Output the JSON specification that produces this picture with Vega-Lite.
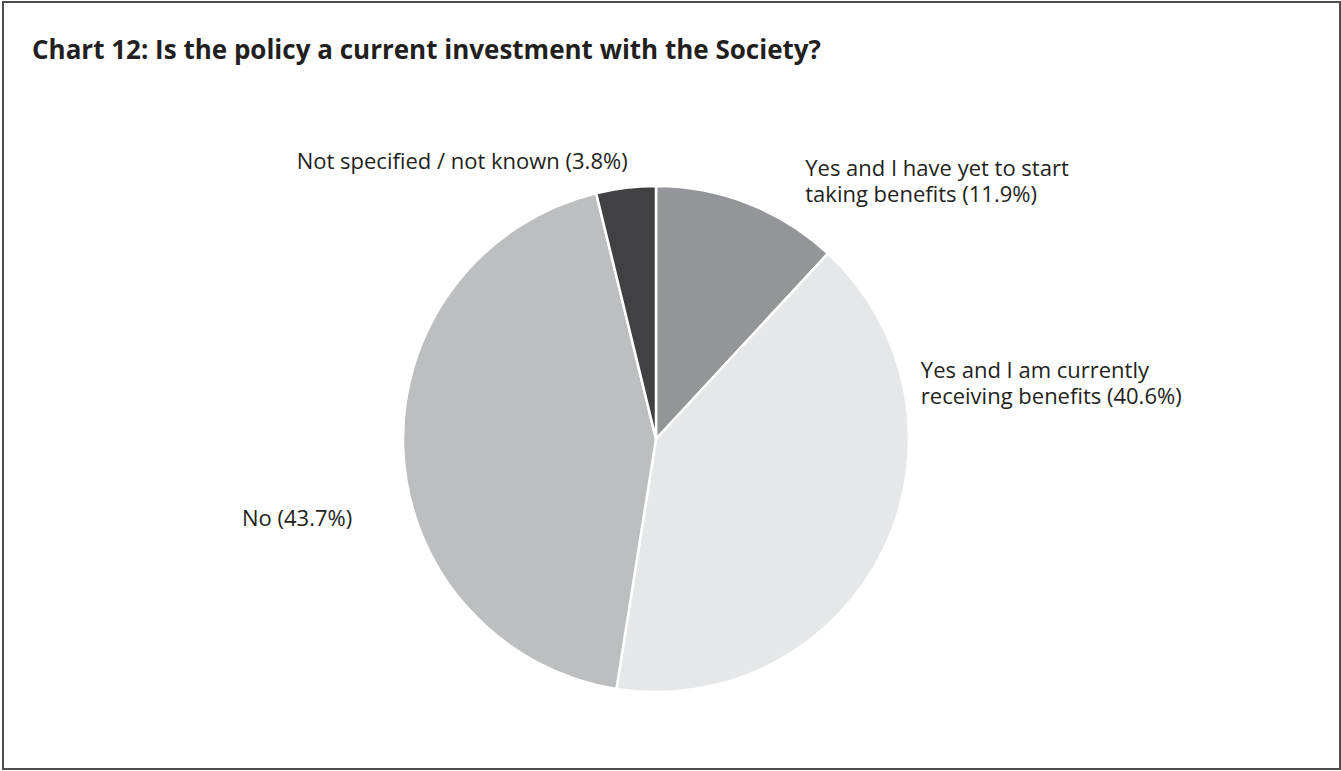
{
  "$schema": "https://vega.github.io/schema/vega-lite/v6.json",
  "width": 1312,
  "height": 664,
  "autosize": {"type": "none"},
  "padding": {"left": 0, "top": 107, "right": 29, "bottom": 0},
  "background": "white",
  "title": {
    "text": "Chart 12: Is the policy a current investment with the Society?",
    "anchor": "start",
    "frame": "group",
    "dx": 32,
    "offset": -63,
    "font": "Open Sans",
    "fontSize": 26,
    "fontWeight": "bold",
    "color": "#231f20"
  },
  "data": {
    "values": [
      {"category": "Yes and I have yet to start taking benefits", "label": "Yes and I have yet to start\ntaking benefits (11.9%)", "share": 11.9},
      {"category": "Yes and I am currently receiving benefits", "label": "Yes and I am currently\nreceiving benefits (40.6%)", "share": 40.6},
      {"category": "No", "label": "No (43.7%)", "share": 43.7},
      {"category": "Not specified / not known", "label": "Not specified / not known (3.8%)", "share": 3.8}
    ]
  },
  "layer": [
    {
      "transform": [{"window": [{"op": "row_number", "as": "idx"}]}],
      "mark": {"type": "arc", "outerRadius": 253, "stroke": "white", "strokeWidth": 2.5},
      "encoding": {
        "theta": {"field": "share", "type": "quantitative", "stack": true},
        "order": {"field": "idx", "type": "quantitative"},
        "color": {
          "field": "category",
          "type": "nominal",
          "scale": {
            "domain": ["Yes and I have yet to start taking benefits", "Yes and I am currently receiving benefits", "No", "Not specified / not known"],
            "range": ["#939598", "#e6e7e8", "#bcbec0", "#414042"]
          },
          "legend": null
        }
      }
    },
    {
      "transform": [{"window": [{"op": "row_number", "as": "idx"}]}],
      "mark": {
        "type": "text",
        "radius": 280,
        "font": "Open Sans",
        "fontSize": 22,
        "color": "#231f20",
        "lineBreak": "\n",
        "lineHeight": 26,
        "baseline": "middle",
        "align": {"expr": "datum.category === 'No' || datum.category === 'Not specified / not known' ? 'right' : 'left'"},
        "dx": {"expr": "datum.category === 'No' ? -24 : datum.category === 'Not specified / not known' ? 5 : datum.category === 'Yes and I am currently receiving benefits' ? 13 : 47"},
        "dy": {"expr": "datum.category === 'No' ? 69 : datum.category === 'Not specified / not known' ? 1 : datum.category === 'Yes and I am currently receiving benefits' ? -190 : -9"}
      },
      "encoding": {
        "theta": {"field": "share", "type": "quantitative", "stack": true},
        "order": {"field": "idx", "type": "quantitative"},
        "text": {"field": "label", "type": "nominal"}
      }
    },
    {
      "data": {"values": [{}]},
      "mark": {"type": "rect", "fill": "transparent", "stroke": "#4d4d4d", "strokeWidth": 2, "x": 3, "x2": 1340, "y": -105, "y2": 662},
      "encoding": {}
    }
  ]
}
